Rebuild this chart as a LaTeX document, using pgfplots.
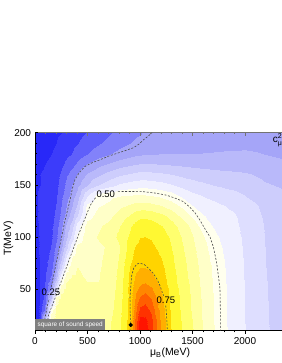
\documentclass[border=0pt]{standalone}
\usepackage{pgfplots}
\pgfplotsset{compat=1.18}
\usepackage{fontspec}
\setmainfont{Liberation Sans}

\pgfplotsset{
  colormap={cs}{
    rgb255=(25,25,240) rgb255=(40,40,248) rgb255=(60,60,250) rgb255=(95,95,250)
    rgb255=(130,130,250) rgb255=(165,165,248) rgb255=(185,185,250) rgb255=(205,205,252)
    rgb255=(222,222,255) rgb255=(240,240,255) rgb255=(255,255,238) rgb255=(255,255,200)
    rgb255=(255,255,160) rgb255=(255,255,110) rgb255=(255,248,50) rgb255=(255,212,0)
    rgb255=(255,175,0) rgb255=(255,135,0) rgb255=(255,95,0) rgb255=(255,50,0)
    rgb255=(255,20,0)
  },
  frame/.style={at={(35pt,32.3pt)}, anchor=south west, scale only axis,
    width=252pt, height=198pt, xmin=0, xmax=2400, ymin=10, ymax=200},
}

\begin{document}
\begin{tikzpicture}[x=1pt,y=1pt]
\useasboundingbox (0,0) rectangle (281,363);

% colour field
\begin{axis}[frame, view={0}{90}, hide axis,
  colormap name=cs, colormap access=piecewise constant,
  point meta min=0, point meta max=1]
\addplot3[surf, shader=interp, mesh/cols=30] coordinates {
(0,10,0.04) (50,10,0.10) (100,10,0.42) (150,10,0.57) (200,10,0.61) (250,10,0.62) (300,10,0.625) (350,10,0.625) (400,10,0.62) (500,10,0.61) (600,10,0.60) (700,10,0.615) (800,10,0.66) (900,10,0.74) (950,10,0.88) (1000,10,1.00) (1050,10,0.98) (1100,10,0.93) (1200,10,0.81) (1300,10,0.715) (1400,10,0.665) (1500,10,0.62) (1600,10,0.57) (1700,10,0.525) (1800,10,0.487) (1900,10,0.452) (2000,10,0.43) (2100,10,0.405) (2200,10,0.385) (2400,10,0.36)

(0,20,0.04) (50,20,0.11) (100,20,0.36) (150,20,0.56) (200,20,0.60) (250,20,0.615) (300,20,0.62) (350,20,0.62) (400,20,0.615) (500,20,0.605) (600,20,0.595) (700,20,0.61) (800,20,0.655) (900,20,0.738) (950,20,0.86) (1000,20,0.97) (1050,20,0.965) (1100,20,0.92) (1200,20,0.80) (1300,20,0.712) (1400,20,0.662) (1500,20,0.615) (1600,20,0.567) (1700,20,0.523) (1800,20,0.484) (1900,20,0.452) (2000,20,0.428) (2100,20,0.404) (2200,20,0.384) (2400,20,0.36)

(0,30,0.045) (50,30,0.11) (100,30,0.21) (150,30,0.50) (200,30,0.585) (250,30,0.605) (300,30,0.61) (350,30,0.61) (400,30,0.605) (500,30,0.595) (600,30,0.585) (700,30,0.60) (800,30,0.648) (900,30,0.735) (950,30,0.835) (1000,30,0.92) (1050,30,0.93) (1100,30,0.895) (1200,30,0.79) (1300,30,0.708) (1400,30,0.658) (1500,30,0.61) (1600,30,0.565) (1700,30,0.522) (1800,30,0.484) (1900,30,0.452) (2000,30,0.428) (2100,30,0.404) (2200,30,0.384) (2400,30,0.36)

(0,40,0.045) (50,40,0.10) (100,40,0.17) (150,40,0.34) (200,40,0.55) (250,40,0.59) (300,40,0.60) (350,40,0.60) (400,40,0.595) (500,40,0.585) (600,40,0.58) (700,40,0.595) (800,40,0.643) (900,40,0.732) (950,40,0.81) (1000,40,0.87) (1050,40,0.885) (1100,40,0.86) (1200,40,0.775) (1300,40,0.703) (1400,40,0.654) (1500,40,0.607) (1600,40,0.563) (1700,40,0.521) (1800,40,0.484) (1900,40,0.452) (2000,40,0.427) (2100,40,0.403) (2200,40,0.383) (2400,40,0.36)

(0,50,0.06) (50,50,0.10) (100,50,0.15) (150,50,0.245) (200,50,0.42) (250,50,0.555) (300,50,0.585) (350,50,0.59) (400,50,0.585) (500,50,0.575) (600,50,0.575) (700,50,0.59) (800,50,0.638) (900,50,0.735) (950,50,0.79) (1000,50,0.825) (1050,50,0.84) (1100,50,0.82) (1200,50,0.76) (1300,50,0.698) (1400,50,0.65) (1500,50,0.603) (1600,50,0.56) (1700,50,0.52) (1800,50,0.483) (1900,50,0.452) (2000,50,0.427) (2100,50,0.403) (2200,50,0.383) (2400,50,0.36)

(0,60,0.07) (50,60,0.10) (100,60,0.14) (150,60,0.20) (200,60,0.32) (250,60,0.48) (300,60,0.565) (350,60,0.58) (400,60,0.578) (500,60,0.57) (600,60,0.57) (700,60,0.585) (800,60,0.633) (900,60,0.728) (950,60,0.768) (1000,60,0.785) (1050,60,0.79) (1100,60,0.78) (1200,60,0.74) (1300,60,0.69) (1400,60,0.645) (1500,60,0.598) (1600,60,0.557) (1700,60,0.517) (1800,60,0.481) (1900,60,0.451) (2000,60,0.426) (2100,60,0.402) (2200,60,0.382) (2400,60,0.358)

(0,70,0.07) (50,70,0.10) (100,70,0.13) (150,70,0.17) (200,70,0.26) (250,70,0.38) (300,70,0.50) (350,70,0.56) (400,70,0.572) (500,70,0.568) (600,70,0.568) (700,70,0.582) (800,70,0.628) (900,70,0.72) (950,70,0.75) (1000,70,0.762) (1050,70,0.763) (1100,70,0.755) (1200,70,0.728) (1300,70,0.683) (1400,70,0.638) (1500,70,0.594) (1600,70,0.553) (1700,70,0.514) (1800,70,0.479) (1900,70,0.45) (2000,70,0.425) (2100,70,0.401) (2200,70,0.381) (2400,70,0.357)

(0,80,0.075) (50,80,0.10) (100,80,0.125) (150,80,0.155) (200,80,0.225) (250,80,0.32) (300,80,0.43) (350,80,0.53) (400,80,0.562) (500,80,0.565) (600,80,0.566) (700,80,0.58) (800,80,0.622) (900,80,0.70) (950,80,0.73) (1000,80,0.742) (1050,80,0.743) (1100,80,0.738) (1200,80,0.715) (1300,80,0.678) (1400,80,0.632) (1500,80,0.588) (1600,80,0.548) (1700,80,0.508) (1800,80,0.476) (1900,80,0.449) (2000,80,0.424) (2100,80,0.40) (2200,80,0.38) (2400,80,0.356)

(0,90,0.08) (50,90,0.10) (100,90,0.12) (150,90,0.145) (200,90,0.20) (250,90,0.27) (300,90,0.36) (350,90,0.46) (400,90,0.535) (500,90,0.56) (600,90,0.563) (700,90,0.578) (800,90,0.615) (900,90,0.69) (950,90,0.715) (1000,90,0.728) (1050,90,0.73) (1100,90,0.725) (1200,90,0.70) (1300,90,0.668) (1400,90,0.624) (1500,90,0.58) (1600,90,0.54) (1700,90,0.498) (1800,90,0.47) (1900,90,0.446) (2000,90,0.422) (2100,90,0.399) (2200,90,0.379) (2400,90,0.355)

(0,100,0.08) (50,100,0.10) (100,100,0.115) (150,100,0.135) (200,100,0.18) (250,100,0.245) (300,100,0.32) (350,100,0.40) (400,100,0.49) (500,100,0.553) (600,100,0.575) (700,100,0.595) (800,100,0.63) (900,100,0.675) (950,100,0.70) (1000,100,0.713) (1050,100,0.715) (1100,100,0.71) (1200,100,0.69) (1300,100,0.66) (1400,100,0.615) (1500,100,0.572) (1600,100,0.53) (1700,100,0.488) (1800,100,0.463) (1900,100,0.442) (2000,100,0.42) (2100,100,0.397) (2200,100,0.378) (2400,100,0.354)

(0,110,0.085) (50,110,0.10) (100,110,0.11) (150,110,0.13) (200,110,0.165) (250,110,0.225) (300,110,0.29) (350,110,0.36) (400,110,0.45) (500,110,0.545) (600,110,0.565) (700,110,0.585) (800,110,0.615) (900,110,0.66) (950,110,0.683) (1000,110,0.695) (1050,110,0.697) (1100,110,0.692) (1200,110,0.67) (1300,110,0.64) (1400,110,0.60) (1500,110,0.555) (1600,110,0.50) (1700,110,0.472) (1800,110,0.455) (1900,110,0.437) (2000,110,0.415) (2100,110,0.397) (2200,110,0.376) (2400,110,0.352)

(0,120,0.09) (50,120,0.10) (100,120,0.11) (150,120,0.125) (200,120,0.155) (250,120,0.205) (300,120,0.255) (350,120,0.315) (400,120,0.38) (500,120,0.505) (600,120,0.54) (700,120,0.56) (800,120,0.59) (900,120,0.625) (950,120,0.645) (1000,120,0.655) (1050,120,0.656) (1100,120,0.652) (1200,120,0.635) (1300,120,0.605) (1400,120,0.56) (1500,120,0.515) (1600,120,0.48) (1700,120,0.462) (1800,120,0.448) (1900,120,0.432) (2000,120,0.41) (2100,120,0.393) (2200,120,0.372) (2400,120,0.35)

(0,130,0.09) (50,130,0.10) (100,130,0.11) (150,130,0.12) (200,130,0.145) (250,130,0.19) (300,130,0.235) (350,130,0.285) (400,130,0.34) (500,130,0.49) (600,130,0.52) (700,130,0.535) (800,130,0.56) (900,130,0.58) (950,130,0.59) (1000,130,0.595) (1050,130,0.595) (1100,130,0.59) (1200,130,0.575) (1300,130,0.55) (1400,130,0.515) (1500,130,0.477) (1600,130,0.455) (1700,130,0.44) (1800,130,0.43) (1900,130,0.418) (2000,130,0.402) (2100,130,0.385) (2200,130,0.365) (2400,130,0.345)

(0,140,0.09) (50,140,0.10) (100,140,0.105) (150,140,0.115) (200,140,0.135) (250,140,0.175) (300,140,0.215) (350,140,0.255) (400,140,0.30) (500,140,0.42) (600,140,0.495) (700,140,0.51) (800,140,0.518) (900,140,0.523) (950,140,0.525) (1000,140,0.525) (1050,140,0.524) (1100,140,0.52) (1200,140,0.51) (1300,140,0.495) (1400,140,0.465) (1500,140,0.438) (1600,140,0.425) (1700,140,0.415) (1800,140,0.405) (1900,140,0.395) (2000,140,0.38) (2100,140,0.37) (2200,140,0.355) (2400,140,0.34)

(0,150,0.09) (50,150,0.095) (100,150,0.10) (150,150,0.11) (200,150,0.13) (250,150,0.165) (300,150,0.20) (350,150,0.24) (400,150,0.27) (500,150,0.33) (600,150,0.38) (700,150,0.41) (800,150,0.435) (900,150,0.45) (950,150,0.455) (1000,150,0.458) (1050,150,0.458) (1100,150,0.455) (1200,150,0.447) (1300,150,0.433) (1400,150,0.415) (1500,150,0.40) (1600,150,0.39) (1700,150,0.38) (1800,150,0.372) (1900,150,0.365) (2000,150,0.357) (2100,150,0.348) (2200,150,0.338) (2400,150,0.325)

(0,160,0.09) (50,160,0.095) (100,160,0.10) (150,160,0.105) (200,160,0.12) (250,160,0.15) (300,160,0.18) (350,160,0.21) (400,160,0.24) (500,160,0.29) (600,160,0.32) (700,160,0.35) (800,160,0.37) (900,160,0.385) (950,160,0.39) (1000,160,0.395) (1050,160,0.395) (1100,160,0.393) (1200,160,0.388) (1300,160,0.38) (1400,160,0.37) (1500,160,0.362) (1600,160,0.355) (1700,160,0.35) (1800,160,0.345) (1900,160,0.342) (2000,160,0.338) (2100,160,0.33) (2200,160,0.32) (2400,160,0.305)

(0,170,0.085) (50,170,0.09) (100,170,0.095) (150,170,0.10) (200,170,0.11) (250,170,0.13) (300,170,0.155) (350,170,0.175) (400,170,0.20) (500,170,0.24) (600,170,0.268) (700,170,0.29) (800,170,0.31) (900,170,0.325) (950,170,0.33) (1000,170,0.335) (1050,170,0.336) (1100,170,0.335) (1200,170,0.332) (1300,170,0.328) (1400,170,0.324) (1500,170,0.32) (1600,170,0.317) (1700,170,0.315) (1800,170,0.313) (1900,170,0.311) (2000,170,0.308) (2100,170,0.304) (2200,170,0.298) (2400,170,0.29)

(0,180,0.08) (50,180,0.085) (100,180,0.09) (150,180,0.095) (200,180,0.10) (250,180,0.115) (300,180,0.13) (350,180,0.145) (400,180,0.16) (500,180,0.19) (600,180,0.215) (700,180,0.235) (800,180,0.252) (900,180,0.268) (950,180,0.275) (1000,180,0.28) (1050,180,0.283) (1100,180,0.285) (1200,180,0.286) (1300,180,0.286) (1400,180,0.286) (1500,180,0.286) (1600,180,0.287) (1700,180,0.288) (1800,180,0.289) (1900,180,0.29) (2000,180,0.29) (2100,180,0.288) (2200,180,0.285) (2400,180,0.28)

(0,190,0.08) (50,190,0.082) (100,190,0.085) (150,190,0.09) (200,190,0.095) (250,190,0.105) (300,190,0.115) (350,190,0.13) (400,190,0.14) (500,190,0.165) (600,190,0.185) (700,190,0.205) (800,190,0.222) (900,190,0.238) (950,190,0.245) (1000,190,0.252) (1050,190,0.256) (1100,190,0.26) (1200,190,0.265) (1300,190,0.268) (1400,190,0.27) (1500,190,0.272) (1600,190,0.274) (1700,190,0.276) (1800,190,0.277) (1900,190,0.278) (2000,190,0.279) (2100,190,0.278) (2200,190,0.276) (2400,190,0.272)

(0,200,0.08) (50,200,0.08) (100,200,0.082) (150,200,0.085) (200,200,0.09) (250,200,0.095) (300,200,0.105) (350,200,0.115) (400,200,0.125) (500,200,0.145) (600,200,0.165) (700,200,0.185) (800,200,0.205) (900,200,0.222) (950,200,0.23) (1000,200,0.236) (1050,200,0.242) (1100,200,0.248) (1200,200,0.255) (1300,200,0.26) (1400,200,0.263) (1500,200,0.265) (1600,200,0.267) (1700,200,0.268) (1800,200,0.269) (1900,200,0.27) (2000,200,0.27) (2100,200,0.27) (2200,200,0.27) (2400,200,0.268)
};
\end{axis}

% top frame line with inward ticks
\begin{axis}[frame, axis x line*=top, axis y line=none,
  xtick={0,500,...,2000}, minor x tick num=4, xticklabels={},
  xtick align=inside, major tick length=3pt, minor tick length=1.6pt,
  x axis line style={draw=black!55, line width=0.6pt},
  every tick/.style={black!55, line width=0.5pt}]
\end{axis}

% main 2D axis: bottom & left lines, contours, labels
\begin{axis}[frame, axis lines*=left,
  xtick={0,500,...,2000}, minor x tick num=4,
  ytick={50,100,150,200}, minor y tick num=4,
  xtick align=outside, ytick align=inside,
  major tick length=3pt, minor tick length=1.6pt,
  every tick/.style={black, line width=0.5pt},
  axis line style={black, line width=0.6pt},
  /pgf/number format/assume math mode=true,
  /pgf/number format/1000 sep={},
  tick label style={font=\fontsize{10}{12}\selectfont},
  xticklabel style={yshift=-0.5pt},
  yticklabel style={xshift=-0.5pt},
  label style={font=\fontsize{10.5}{12}\selectfont},
  xlabel={μ\textsubscript{B}(MeV)},
  ylabel={T(MeV)},
  xlabel style={at={(axis description cs:0.536,-0.113)}, anchor=center},
  ylabel style={at={(axis description cs:-0.106,0.466)}, anchor=center},
  contour/.style={black!70, line width=0.6pt, dash pattern=on 2pt off 1.6pt},
  clip=true]
% 0.25 contour
\addplot[contour] coordinates {(80,10) (95,22) (120,35) (130,40)};
\addplot[contour] coordinates {(155,52) (203,75) (254,100) (286,116) (333,135) (355,146) (381,155) (420,161.5) (476,167.6) (550,171.5) (619,174) (700,177.5) (790,180.5) (880,183.5) (936,185.5) (990,189) (1031,193) (1075,196.5) (1115,200)};
% 0.50 contour
\addplot[contour] coordinates {(110,10) (118,18) (127,24) (155,32) (187,40) (223,50) (260,60) (297,70) (333,80) (370,90) (407,100) (445,110) (485,120) (525,130) (555,135) (585,138.5)};
\addplot[contour] coordinates {(790,143.5) (900,143.6) (1031,143.4) (1150,142) (1254,140) (1340,137) (1410,134) (1470,129) (1525,123) (1565,117) (1600,111) (1635,105) (1667,100) (1700,90) (1730,75) (1750,60) (1762,50) (1765,30) (1765,10)};
% 0.75 contour
\addplot[contour] coordinates {(905,10) (909,20) (906,30) (905,42) (912,52) (921,63) (940,70) (970,74) (1000,74.8) (1040,73.5) (1085,69.5) (1127,65) (1165,59) (1195,52) (1215,46) (1225,43.5)};
\addplot[contour] coordinates {(1245,34) (1252,26) (1257,18) (1260,10)};
% critical point
\addplot[only marks, mark=*, mark size=1.9pt, black] coordinates {(911,15.5)};
% labels
\node[font=\fontsize{9.5}{11}\selectfont] at (axis cs:152,46.6) {0.25};
\node[font=\fontsize{9.5}{11}\selectfont] at (axis cs:674,141) {0.50};
\node[font=\fontsize{9.5}{11}\selectfont] at (axis cs:1246,39.3) {0.75};
\node[anchor=south west, fill=black!50, text=white, inner sep=0pt,
  minimum width=70pt, minimum height=11.5pt,
  font=\fontsize{6.4}{7}\selectfont] at (axis cs:0,10) {square of sound speed};
\node[anchor=west, inner sep=0pt, font=\fontsize{10}{12}\selectfont]
  at (axis cs:2264,193) {c\rlap{\raisebox{0.85ex}{\fontsize{7}{8}\selectfont 2}}\raisebox{-0.45ex}{\fontsize{7}{8}\selectfont μ}};
\end{axis}
\end{tikzpicture}
\end{document}
